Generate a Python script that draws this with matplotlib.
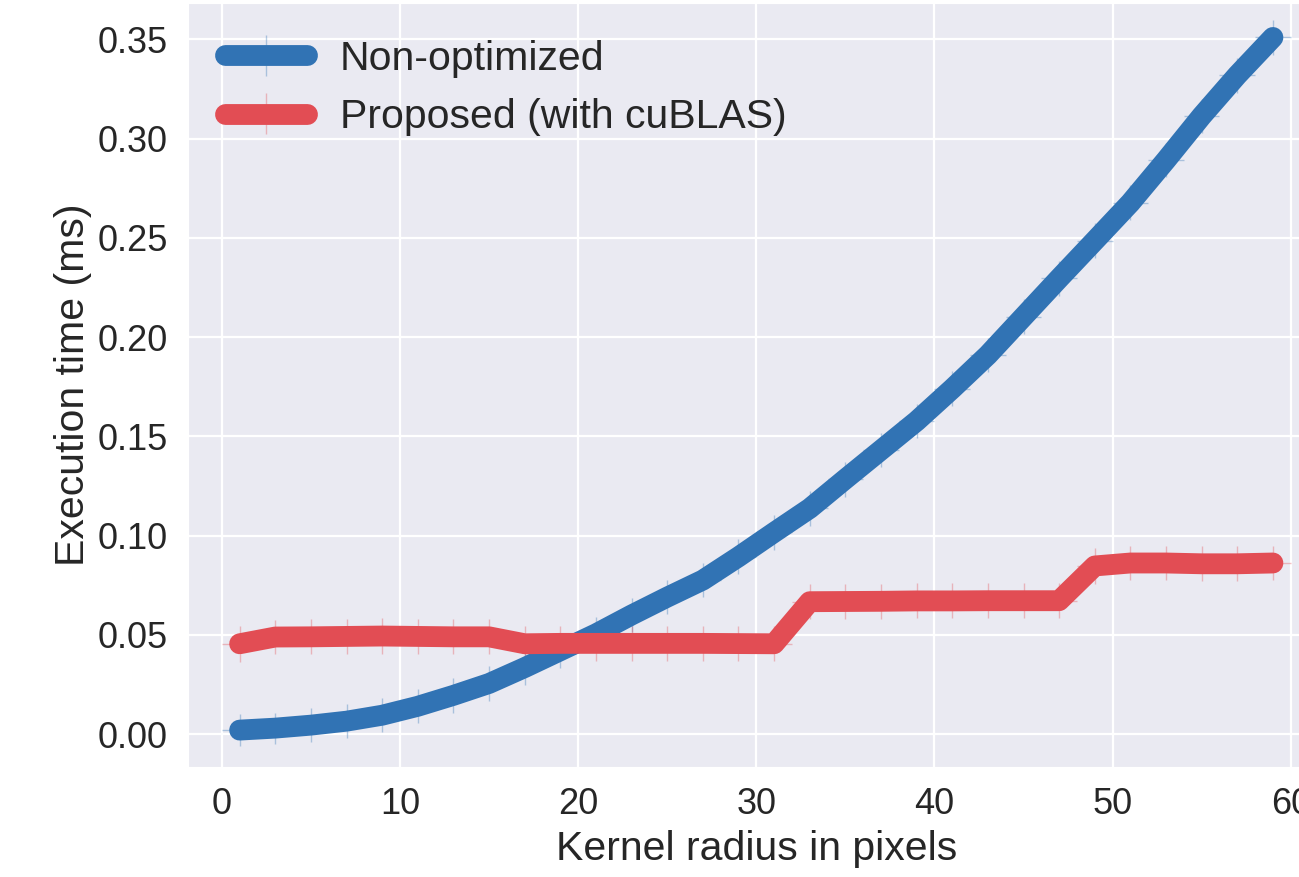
import matplotlib
matplotlib.use("Agg")
import matplotlib.pyplot as plt
import seaborn as sns
from matplotlib.colors import to_rgba

BLUE = "#3173b4"
RED = "#e24d54"

# kernel radius (pixels)
radius = [1, 3, 5, 7, 9, 11, 13, 15, 17, 19, 21, 23, 25, 27, 29,
          31, 33, 35, 37, 39, 41, 43, 45, 47, 49, 51, 53, 55, 57, 59]

# execution time (ms)
non_optimized = [0.0020, 0.0030, 0.0045, 0.0065, 0.0095, 0.0140, 0.0195, 0.0255,
                 0.0335, 0.0420, 0.0505, 0.0600, 0.0690, 0.0776, 0.0893, 0.1016,
                 0.1137, 0.1285, 0.1431, 0.1577, 0.1740, 0.1910, 0.2103, 0.2296,
                 0.2486, 0.2677, 0.2892, 0.3114, 0.3320, 0.3510]
proposed = [0.0455, 0.0489, 0.0490, 0.0492, 0.0494, 0.0492, 0.0490, 0.0490,
            0.0455, 0.0457, 0.0457, 0.0457, 0.0457, 0.0457, 0.0456, 0.0455,
            0.0667, 0.0668, 0.0669, 0.0671, 0.0671, 0.0672, 0.0672, 0.0672,
            0.0847, 0.0862, 0.0862, 0.0858, 0.0858, 0.0862]

# spread of the measurements
non_optimized_err = [0.0082, 0.0078, 0.0086, 0.0087, 0.0087, 0.0086, 0.0087, 0.0086,
                     0.0087, 0.0088, 0.0087, 0.0086, 0.0087, 0.0087, 0.0088, 0.0087,
                     0.0087, 0.0088, 0.0087, 0.0087, 0.0088, 0.0087, 0.0087, 0.0088,
                     0.0087, 0.0088, 0.0087, 0.0087, 0.0088, 0.0088]
proposed_err = [0.0092, 0.0088, 0.0088, 0.0088, 0.0089, 0.0088, 0.0088, 0.0088,
                0.0088, 0.0088, 0.0089, 0.0088, 0.0088, 0.0088, 0.0088, 0.0088,
                0.0088, 0.0088, 0.0089, 0.0088, 0.0088, 0.0088, 0.0088, 0.0088,
                0.0090, 0.0088, 0.0088, 0.0089, 0.0088, 0.0088]

sns.set_style("darkgrid")
plt.rcParams["font.family"] = ["Liberation Sans", "DejaVu Sans"]
plt.rcParams["grid.linewidth"] = 1.6

fig = plt.figure(figsize=(12.99, 8.77), dpi=100)
ax = fig.add_axes([0.1447, 0.1254, 0.875, 0.8715])

for y, err, color, label in [(non_optimized, non_optimized_err, BLUE, "Non-optimized"),
                             (proposed, proposed_err, RED, "Proposed (with cuBLAS)")]:
    ax.errorbar(radius, y, yerr=err, xerr=1, color=color, lw=15,
                solid_capstyle="round", ecolor=to_rgba(color, 0.35),
                elinewidth=1, label=label)

ax.set_xlim(-1.9, 61.9)
ax.set_ylim(-0.0166, 0.3685)
ax.set_xticks(range(0, 61, 10))
ax.set_yticks([0.0, 0.05, 0.10, 0.15, 0.20, 0.25, 0.30, 0.35])
ax.set_yticklabels([f"{v:.2f}" for v in ax.get_yticks()])
ax.tick_params(labelsize=26, pad=11, colors="#262626")
ax.set_xlabel("Kernel radius in pixels", fontsize=29.5, color="#262626", labelpad=6)
ax.set_ylabel("Execution time (ms)", fontsize=29.5, color="#262626", labelpad=4)
ax.legend(loc="upper left", fontsize=29.5, frameon=False)

fig.savefig("out.png", dpi=100)
